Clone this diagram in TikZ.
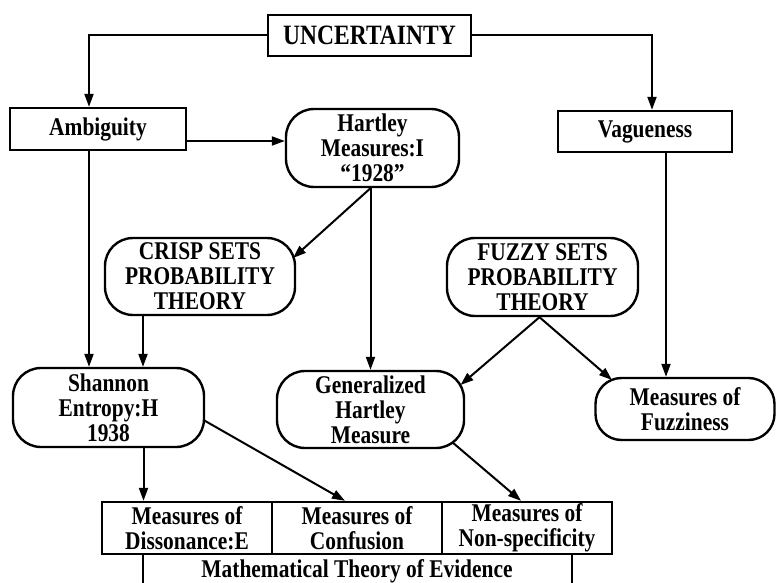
\documentclass[tikz,border=0pt]{standalone}
\usepackage{fontspec}
\setmainfont{Liberation Serif}[FakeStretch=0.84]
\usetikzlibrary{arrows.meta,calc}
\begin{document}
\begin{tikzpicture}[x=1pt,y=-1pt,
  box/.style={draw,line width=2.4pt,align=center,inner sep=0pt,font=\fontsize{25.5}{25}\selectfont\bfseries},
  rbox/.style={box,rounded corners=28pt},
  arr/.style={line width=2pt,-{Triangle[length=13pt,width=9pt]}},
  ln/.style={line width=2pt}]
\fill[white] (0,0) rectangle (777,583);
\useasboundingbox (0,0) rectangle (777,583);

\node[box,minimum width=203pt,minimum height=41pt,font=\fontsize{28}{28}\selectfont\bfseries] (unc) at (369.5,35.5) {UNCERTAINTY};
\node[box,minimum width=176pt,minimum height=42pt] (amb) at (98,129) {Ambiguity};
\node[rbox,minimum width=173pt,minimum height=78pt] (hart) at (372.5,148) {Hartley\\Measures:I\\“1928”};
\node[box,minimum width=174pt,minimum height=41pt] (vag) at (645,131.5) {Vagueness};
\node[rbox,minimum width=190pt,minimum height=77pt] (crisp) at (200,276.5) {CRISP SETS\\PROBABILITY\\THEORY};
\node[rbox,minimum width=191pt,minimum height=78pt] (fuzzy) at (542.5,277) {FUZZY SETS\\PROBABILITY\\THEORY};
\node[rbox,minimum width=191pt,minimum height=79pt] (shannon) at (108.5,407.5) {Shannon\\Entropy:H\\1938};
\node[rbox,minimum width=187pt,minimum height=77pt] (gen) at (370.5,409.5) {Generalized\\Hartley\\Measure};
\node[rbox,rounded corners=26pt,minimum width=179pt,minimum height=62pt] (fuzz) at (685,409) {Measures of\\Fuzziness};

\node[box,minimum width=170pt,minimum height=52pt] (c1) at (187,528) {Measures of\\Dissonance:E};
\node[box,minimum width=170pt,minimum height=52pt] (c2) at (357,528) {Measures of\\Confusion};
\node[box,minimum width=170pt,minimum height=52pt] (c3) at (527,528) {Measures of\\Non-specificity};
\node[font=\fontsize{25.5}{25}\selectfont\bfseries,inner sep=0pt] (mte) at (357,571) {Mathematical Theory of Evidence};
\coordinate (bl) at (143,583);
\coordinate (br) at (572,583);
\draw[ln] (c1.south -| bl) -- (bl);
\draw[ln] (c3.south -| br) -- (br);

\draw[arr] (unc.west) -| ([xshift=-9pt]amb.north);
\draw[arr] (unc.east) -| ([xshift=7pt]vag.north);
\draw[arr] ([yshift=-12pt]amb.east) -- ([yshift=-12pt]amb.east -| hart.west);
\draw[arr] ([xshift=-9pt]amb.south) -- ([xshift=-9pt]amb.south |- shannon.north);
\draw[arr] ([xshift=-2pt]hart.south) -- ($(crisp.center)+(93,-18.5)$);
\draw[arr] ([xshift=-2pt]hart.south) -- ([xshift=-2pt]hart.south |- gen.north);
\draw[arr] ([xshift=-57pt]crisp.south) -- ([xshift=-57pt]crisp.south |- shannon.north);
\draw[arr] ([xshift=21pt]vag.south) -- ([xshift=21pt]vag.south |- fuzz.north);
\draw[arr] ([xshift=-3pt]fuzzy.south) -- ($(gen.center)+(90,-24.5)$);
\draw[arr] ([xshift=-3pt]fuzzy.south) -- ($(fuzz.center)+(-73,-29)$);
\draw[arr] ([xshift=35pt]shannon.south) -- ([xshift=35pt]shannon.south |- c1.north);
\draw[arr] ($(shannon.center)+(95,12.5)$) -- ([xshift=-12pt]c2.north);
\draw[arr] ($(gen.center)+(81.5,32.5)$) -- ([xshift=-6pt]c3.north);
\end{tikzpicture}
\end{document}
